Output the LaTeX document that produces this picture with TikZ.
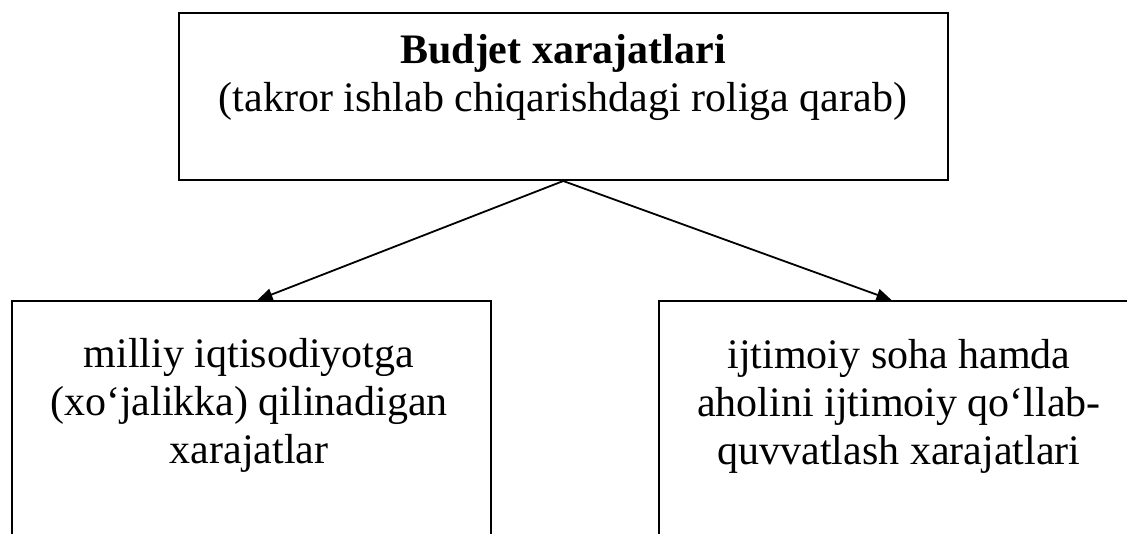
\documentclass[tikz,border=0pt]{standalone}
\usepackage{fontspec}
\setmainfont{Liberation Serif}
\usetikzlibrary{arrows.meta}
\tikzset{
  box/.style={draw, line width=2pt, rectangle, inner sep=0pt},
  txt/.style={align=center, inner sep=0pt, font=\fontsize{42}{48}\selectfont},
  arr/.style={line width=1.8pt, -{Triangle[length=15pt,width=12pt]}}
}
\begin{document}
\begin{tikzpicture}[x=1pt,y=-1pt]
\useasboundingbox (0,0) rectangle (1127,533);
\clip (0,0) rectangle (1127,533);
\node[box, minimum width=769.5pt, minimum height=167pt, anchor=north west] (T) at (177.5,12) {};
\node[box, minimum width=479pt, minimum height=260pt, anchor=north west] (L) at (11,300) {};
\node[box, minimum width=479pt, minimum height=260pt, anchor=north west] (R) at (658,300) {};
\node[txt, anchor=base] (Tt) at (563,111) {\textbf{Budjet xarajatlari}\\(takror ishlab chiqarishdagi roliga qarab)};
\node[txt, anchor=base] (Lt) at (249,463) {milliy iqtisodiyotga\\(xo‘jalikka) qilinadigan\\xarajatlar};
\node[txt, anchor=base] (Rt) at (899,464) {ijtimoiy soha hamda\\aholini ijtimoiy qo‘llab-\\quvvatlash xarajatlari};
\draw[arr] (T.south) -- ([xshift=6pt]L.north);
\draw[arr] (T.south) -- ([xshift=-7pt]R.north);
\end{tikzpicture}
\end{document}
